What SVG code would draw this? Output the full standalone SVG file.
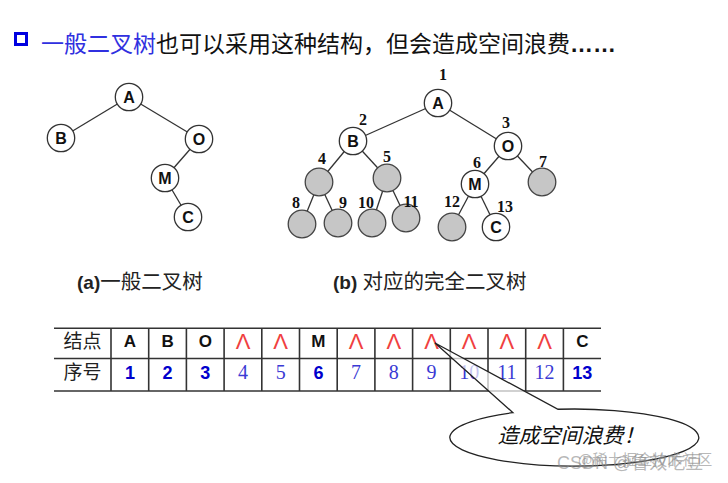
<svg xmlns="http://www.w3.org/2000/svg" width="728" height="483" viewBox="0 0 728 483">
<style>
.cjk{font-family:"Noto Sans CJK SC","Liberation Sans",sans-serif}
.edge{stroke:#333;stroke-width:1.3;fill:none}
.nw{fill:#fff;stroke:#333;stroke-width:1.3}
.ng{fill:#c6c6c6;stroke:#444;stroke-width:1.3}
.nl{font-family:"Liberation Sans",Arial,sans-serif;font-weight:bold;font-size:16px;fill:#111;text-anchor:middle}
.num{font-family:"Liberation Serif","Times New Roman",serif;font-weight:bold;font-size:16px;fill:#111;text-anchor:middle}
.tl{stroke:#333;stroke-width:1.6}
.tc{font-family:"Liberation Sans",Arial,sans-serif;font-weight:bold;font-size:17px;fill:#111;text-anchor:middle}
.tr{font-family:"Liberation Sans",Arial,sans-serif;font-size:22px;fill:#f04040;text-anchor:middle}
.tb{font-family:"Liberation Sans",Arial,sans-serif;font-weight:bold;font-size:18px;fill:#0000cc;text-anchor:middle}
.ts{font-family:"Liberation Serif","Times New Roman",serif;font-size:20px;fill:#3a3ad4;text-anchor:middle}
.lat{font-family:"Liberation Sans",Arial,sans-serif;font-weight:bold}
</style>
<rect width="728" height="483" fill="#fff"/>
<g id="title">
<rect x="15.5" y="33.5" width="11" height="11" fill="#fff" stroke="#0000e0" stroke-width="3"/>
<text x="41" y="52" class="cjk" font-size="23"><tspan fill="#3030e0">一般二叉树</tspan><tspan fill="#111">也可以采用这种结构，但会造成空间浪费</tspan><tspan class="lat" fill="#111">……</tspan></text>
</g>
<g id="connectors">
<line class="edge" x1="129" y1="97" x2="61" y2="138"/>
<line class="edge" x1="129" y1="97" x2="199" y2="139"/>
<line class="edge" x1="199" y1="139" x2="165" y2="178"/>
<line class="edge" x1="165" y1="178" x2="188" y2="217"/>
<line class="edge" x1="438" y1="103" x2="353" y2="141"/>
<line class="edge" x1="438" y1="103" x2="508" y2="146"/>
<line class="edge" x1="353" y1="141" x2="319" y2="182"/>
<line class="edge" x1="353" y1="141" x2="387" y2="178"/>
<line class="edge" x1="508" y1="146" x2="475" y2="184"/>
<line class="edge" x1="508" y1="146" x2="542" y2="182"/>
<line class="edge" x1="319" y1="182" x2="302" y2="224"/>
<line class="edge" x1="319" y1="182" x2="338" y2="223"/>
<line class="edge" x1="387" y1="178" x2="372" y2="223"/>
<line class="edge" x1="387" y1="178" x2="406" y2="218"/>
<line class="edge" x1="475" y1="184" x2="452" y2="227"/>
<line class="edge" x1="475" y1="184" x2="496" y2="227"/>
</g>
<g id="treeA">
<g id="a-A"><circle class="nw" cx="129" cy="97" r="13.7"/><text class="nl" x="129" y="102.5">A</text></g>
<g id="a-B"><circle class="nw" cx="61" cy="138" r="13.7"/><text class="nl" x="61" y="143.5">B</text></g>
<g id="a-O"><circle class="nw" cx="199" cy="139" r="13.7"/><text class="nl" x="199" y="144.5">O</text></g>
<g id="a-M"><circle class="nw" cx="165" cy="178" r="13.7"/><text class="nl" x="165" y="183.5">M</text></g>
<g id="a-C"><circle class="nw" cx="188" cy="217" r="13.7"/><text class="nl" x="188" y="222.5">C</text></g>
<text id="capA" x="77" y="289" font-size="20.5" fill="#222"><tspan class="lat" font-size="19">(a)</tspan><tspan class="cjk">一般二叉树</tspan></text>
</g>
<g id="treeB">
<g id="b1"><circle class="nw" cx="438" cy="103" r="13.7"/><text class="nl" x="438" y="108.5">A</text><text class="num" x="443" y="80">1</text></g>
<g id="b2"><circle class="nw" cx="353" cy="141" r="13.7"/><text class="nl" x="353" y="146.5">B</text><text class="num" x="363" y="125">2</text></g>
<g id="b3"><circle class="nw" cx="508" cy="146" r="13.7"/><text class="nl" x="508" y="151.5">O</text><text class="num" x="506" y="128">3</text></g>
<g id="b4"><circle class="ng" cx="319" cy="182" r="13.8"/><text class="num" x="322" y="164">4</text></g>
<g id="b5"><circle class="ng" cx="387" cy="178" r="13.8"/><text class="num" x="387" y="162">5</text></g>
<g id="b6"><circle class="nw" cx="475" cy="184" r="13.7"/><text class="nl" x="475" y="189.5">M</text><text class="num" x="477" y="168">6</text></g>
<g id="b7"><circle class="ng" cx="542" cy="182" r="13.8"/><text class="num" x="543" y="167">7</text></g>
<g id="b8"><circle class="ng" cx="302" cy="224" r="13.8"/><text class="num" x="296" y="208">8</text></g>
<g id="b9"><circle class="ng" cx="338" cy="223" r="13.8"/><text class="num" x="343" y="208">9</text></g>
<g id="b10"><circle class="ng" cx="372" cy="223" r="13.8"/><text class="num" x="366" y="208">10</text></g>
<g id="b11"><circle class="ng" cx="406" cy="218" r="13.8"/><text class="num" x="411" y="207">11</text></g>
<g id="b12"><circle class="ng" cx="452" cy="227" r="13.8"/><text class="num" x="452" y="207">12</text></g>
<g id="b13"><circle class="nw" cx="496" cy="227" r="13.7"/><text class="nl" x="496" y="232.5">C</text><text class="num" x="505" y="212">13</text></g>
<text id="capB" x="333" y="289" font-size="20.5" fill="#222"><tspan class="lat" font-size="19">(b) </tspan><tspan class="cjk">对应的完全二叉树</tspan></text>
</g>
<g id="table">
<line class="tl" x1="54" y1="328.3" x2="601" y2="328.3"/>
<line class="tl" x1="54" y1="358.5" x2="601" y2="358.5"/>
<line class="tl" x1="54" y1="391" x2="601" y2="391"/>
<g class="tl">
<line x1="111" y1="328" x2="111" y2="391"/>
<line x1="148.7" y1="328" x2="148.7" y2="391"/>
<line x1="186.4" y1="328" x2="186.4" y2="391"/>
<line x1="224.1" y1="328" x2="224.1" y2="391"/>
<line x1="261.8" y1="328" x2="261.8" y2="391"/>
<line x1="299.5" y1="328" x2="299.5" y2="391"/>
<line x1="337.2" y1="328" x2="337.2" y2="391"/>
<line x1="374.9" y1="328" x2="374.9" y2="391"/>
<line x1="412.6" y1="328" x2="412.6" y2="391"/>
<line x1="450.3" y1="328" x2="450.3" y2="391"/>
<line x1="488" y1="328" x2="488" y2="391"/>
<line x1="525.7" y1="328" x2="525.7" y2="391"/>
<line x1="563.4" y1="328" x2="563.4" y2="391"/>
</g>
<text class="cjk" x="82.5" y="348" font-size="19" fill="#222" text-anchor="middle">结点</text>
<text class="cjk" x="82.5" y="379" font-size="19" fill="#222" text-anchor="middle">序号</text>
<text class="tc" x="129.9" y="347">A</text>
<text class="tc" x="167.6" y="347">B</text>
<text class="tc" x="205.3" y="347">O</text>
<text class="tr" x="243" y="349">Λ</text>
<text class="tr" x="280.7" y="349">Λ</text>
<text class="tc" x="318.4" y="347">M</text>
<text class="tr" x="356.1" y="349">Λ</text>
<text class="tr" x="393.8" y="349">Λ</text>
<text class="tr" x="431.5" y="349">Λ</text>
<text class="tr" x="469.2" y="349">Λ</text>
<text class="tr" x="506.9" y="349">Λ</text>
<text class="tr" x="544.6" y="349">Λ</text>
<text class="tc" x="582.3" y="347">C</text>
<text class="tb" x="129.9" y="379">1</text>
<text class="tb" x="167.6" y="379">2</text>
<text class="tb" x="205.3" y="379">3</text>
<text class="ts" x="243" y="379">4</text>
<text class="ts" x="280.7" y="379">5</text>
<text class="tb" x="318.4" y="379">6</text>
<text class="ts" x="356.1" y="379">7</text>
<text class="ts" x="393.8" y="379">8</text>
<text class="ts" x="431.5" y="379">9</text>
<text class="ts" x="469.2" y="379">10</text>
<text class="ts" x="506.9" y="379">11</text>
<text class="ts" x="544.6" y="379">12</text>
<text class="tb" x="582.3" y="379">13</text>
</g>
<g id="callout">
<path d="M513 412.7 L435 343 L558 409.25 A124.5 28.5 0 1 1 513 412.7 Z" fill="#fff" fill-opacity="0.7" stroke="#222" stroke-width="1.3"/>
<text class="cjk" x="571" y="443" font-size="21" font-style="italic" fill="#111" text-anchor="middle">造成空间浪费！</text>
</g>
<g id="watermark" fill="#888" fill-opacity="0.6">
<text x="557" y="469" font-family="Liberation Sans,Noto Sans CJK SC,sans-serif" font-size="18">CSDN @鲁效吃豆</text>
<text x="578" y="465" class="cjk" font-size="15">@稀土掘金技术社区</text>
</g>
</svg>
